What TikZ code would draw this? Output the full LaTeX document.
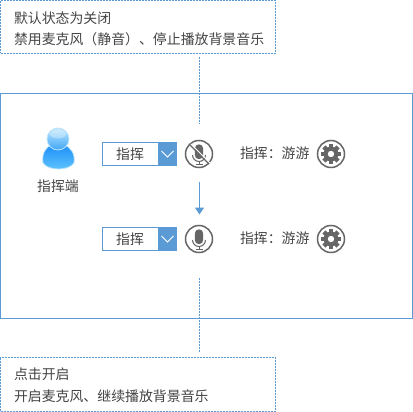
\documentclass[tikz,border=0pt]{standalone}
\usepackage{fontspec}
\setmainfont{Noto Sans CJK SC}
\usetikzlibrary{arrows.meta,calc}
\definecolor{bl}{HTML}{5B9BD5}
\definecolor{tx}{HTML}{444444}
\definecolor{ic}{HTML}{666666}
\definecolor{hdA}{HTML}{BFE8FC}
\definecolor{hdB}{HTML}{3FA6F8}
\definecolor{bdA}{HTML}{1E90FA}
\definecolor{bdB}{HTML}{62C6FC}
\definecolor{rim}{HTML}{BDE4FA}
\tikzset{
 every node/.style={outer sep=0pt},
 note/.style={draw=bl,line width=1pt,dash pattern=on 2pt off 1pt,minimum width=274.5pt,minimum height=53pt,anchor=north west,inner sep=0pt},
 dotline/.style={draw=bl,line width=1pt,dash pattern=on 2pt off 1pt},
 txt/.style={font=\fontsize{13.9pt}{14pt}\selectfont,text=tx,inner sep=0pt},
 selbox/.style={draw=bl,line width=1pt,fill=white,minimum width=74pt,minimum height=23pt,anchor=north west,inner sep=0pt},
 round icon/.style={draw=ic,line width=1.5pt,circle,minimum size=27pt,inner sep=0pt,fill=white},
}
\newcommand{\micglyph}[1]{%
 \fill[ic] ($(#1)+(-4.2,-5.5)$) arc[start angle=180,end angle=360,radius=4.2] -- ($(#1)+(4.2,1)$) arc[start angle=0,end angle=180,radius=4.2] -- cycle;
 \draw[ic,line width=1pt] ($(#1)+(-6.5,1)$) arc[start angle=180,end angle=0,radius=6.5];
 \draw[ic,line width=1pt] ($(#1)+(0,7.5)$) -- ($(#1)+(0,10.5)$) ($(#1)+(-3.5,10.5)$) -- ($(#1)+(3.5,10.5)$);
}
\newcommand{\gearglyph}[1]{%
 \foreach \a in {0,45,...,315}{\fill[ic,rotate around={\a:(#1)}] ($(#1)+(-2.2,-10)$) rectangle ($(#1)+(2.2,-5)$);}
 \fill[ic] (#1) circle[radius=7.4];
 \fill[white] (#1) circle[radius=3.2];
}
\begin{document}
\begin{tikzpicture}[x=1pt,y=-1pt]
\useasboundingbox (0,0) rectangle (413,412);
\fill[white] (0,0) rectangle (413,412);
% frame
\node[draw=bl,line width=1pt,anchor=north west,minimum width=412pt,minimum height=225pt,inner sep=0pt] (frame) at (0.5,93.5) {};
% notes
\node[note] (top) at (0.5,0.5) {};
\node[note,minimum height=54pt] (bot) at (0.5,357.5) {};
\node[txt,anchor=west] (t1) at (14,18) {默认状态为关闭};
\node[txt,anchor=west] (t2) at (14,39) {禁用麦克风（静音）、停止播放背景音乐};
\node[txt,anchor=west] (b1) at (14,374) {点击开启};
\node[txt,anchor=west] (b2) at (14,396) {开启麦克风、继续播放背景音乐};
% connectors
\coordinate (ct1) at (199.5,57);
\coordinate (ct2) at (199.5,124);
\coordinate (cb1) at (199.5,278);
\coordinate (cb2) at (199.5,352);
\draw[dotline] (ct1) -- (ct2);
\draw[dotline] (cb1) -- (cb2);
% user icon
\shade[top color=bdA,bottom color=bdB,draw=rim,line width=.8pt] (43,163) .. controls (41.5,153) and (46,147.5) .. (51,145) -- (65,145) .. controls (70,147.5) and (75.5,153) .. (74,163) .. controls (69,171) and (48,171) .. (43,163) -- cycle;
\shade[top color=hdA,bottom color=hdB,draw=rim,line width=.8pt] (58,139) ellipse[x radius=11,y radius=11];
\fill[white,opacity=.3] (58,134) ellipse[x radius=8,y radius=4.5];
\node[txt] (lab) at (58,186) {指挥端};
% selects
\node[selbox] (s1) at (102.5,142.5) {};
\node[selbox] (s2) at (102.5,227.5) {};
\fill[bl] (158,142) rectangle (177,166);
\fill[bl] (158,227) rectangle (177,251);
\draw[white,line width=.8pt] (161.5,151) -- (167.5,157) -- (173.5,151);
\draw[white,line width=.8pt] (161.5,236) -- (167.5,242) -- (173.5,236);
\node[txt] (s1t) at (130,154) {指挥};
\node[txt] (s2t) at (130,239) {指挥};
% mics
\node[round icon] (m1) at (199,154) {};
\node[round icon] (m2) at (199,239) {};
\micglyph{m1}
\micglyph{m2}
\draw[white,line width=1pt] ($(m1.north west)+(1.2,-0.6)$) -- ($(m1.south east)+(1.2,-0.6)$);
\draw[ic,line width=1.2pt] (m1.north west) -- (m1.south east);
\draw[bl,line width=1pt,-{Triangle[length=7pt,width=9pt]}] ($(m1.south)+(0.5,14)$) -- ($(m2.north)+(0.5,-11)$);
% status
\node[txt,anchor=west] (p1) at (240,153.5) {指挥：游游};
\node[txt,anchor=west] (p2) at (240,238.5) {指挥：游游};
\node[round icon] (g1) at (331,154) {};
\node[round icon] (g2) at (331,239) {};
\gearglyph{g1}
\gearglyph{g2}
\end{tikzpicture}
\end{document}
